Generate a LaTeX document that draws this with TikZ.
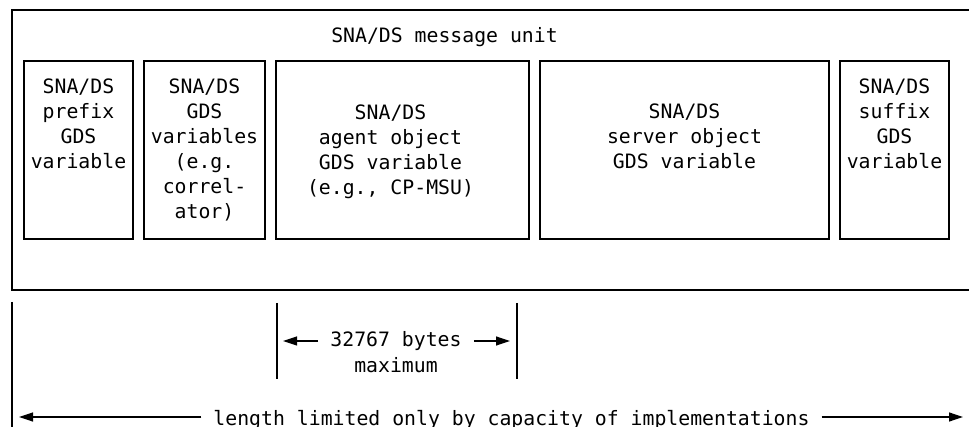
\documentclass[tikz,border=0pt]{standalone}
\usepackage{fontspec}
\setmonofont{DejaVu Sans Mono}
\usetikzlibrary{arrows.meta,positioning}
\begin{document}
\begin{tikzpicture}[x=1pt,y=-1pt,
        every node/.style={font=\ttfamily\fontsize{19.8}{25}\selectfont, inner sep=0pt},
        gdsbox/.style={draw, line width=1.2pt, minimum height=178pt},
        gdstext/.style={align=center, anchor=north},
        bound/.style={line width=1.2pt},
        dimarrow/.style={line width=1.2pt, -{Triangle[length=14pt,width=9pt]}}]
    \useasboundingbox (0,0) rectangle (969,427);
    % message unit, open on the right
    \draw[bound] (975,10) -- (12,10) -- (12,290) -- (975,290);
    \node[anchor=base] (unit) at (444.5,43) {SNA/DS message unit};
    % the GDS variables
    \node[gdsbox, minimum width=109pt] (prefix) at (78.5,150) {};
    \node[gdsbox, minimum width=121pt] (corr)   at (204.5,150) {};
    \node[gdsbox, minimum width=253pt] (agent)  at (402.5,150) {};
    \node[gdsbox, minimum width=289pt] (server) at (684.5,150) {};
    \node[gdsbox, minimum width=109pt] (suffix) at (894.5,150) {};
    \node[gdstext] (prefixtext) at ([yshift=-18pt]prefix.north) {SNA/DS\\prefix\\GDS\\variable};
    \node[gdstext] (corrtext)   at ([yshift=-18pt]corr.north)   {SNA/DS\\GDS\\variables\\(e.g.\\correl-\\ator)};
    \node[gdstext] (agenttext)  at ([xshift=-12pt,yshift=-44pt]agent.north) {SNA/DS\\agent object\\GDS variable\\(e.g., CP-MSU)};
    \node[gdstext] (servertext) at ([yshift=-43pt]server.north) {SNA/DS\\server object\\GDS variable};
    \node[gdstext] (suffixtext) at ([yshift=-18pt]suffix.north) {SNA/DS\\suffix\\GDS\\variable};
    % lengths
    \coordinate (leftTop) at (12,302);
    \coordinate (leftBot) at (12,427);
    \coordinate (maxL) at (277,341);
    \coordinate (maxR) at (517,341);
    \coordinate (limL) at (12,417);
    \coordinate (limR) at (970,417);
    \draw[bound] (leftTop) -- (leftBot);
    \draw[bound] ([yshift=38pt]maxL) -- ([yshift=-38pt]maxL);
    \draw[bound] ([yshift=38pt]maxR) -- ([yshift=-38pt]maxR);
    \node[anchor=base, inner xsep=12pt] (bytes) at (396,347) {32767 bytes};
    \node[anchor=base] (maximum) at (396,373) {maximum};
    \draw[dimarrow] (bytes.west |- maxL) -- ([xshift=6pt]maxL);
    \draw[dimarrow] (bytes.east |- maxR) -- ([xshift=-7pt]maxR);
    \node[anchor=base, inner xsep=12pt] (limit) at (511.5,425) {length limited only by capacity of implementations};
    \draw[dimarrow] (limit.west |- limL) -- ([xshift=7pt]limL);
    \draw[dimarrow] (limit.east |- limR) -- ([xshift=-7pt]limR);
\end{tikzpicture}
\end{document}
